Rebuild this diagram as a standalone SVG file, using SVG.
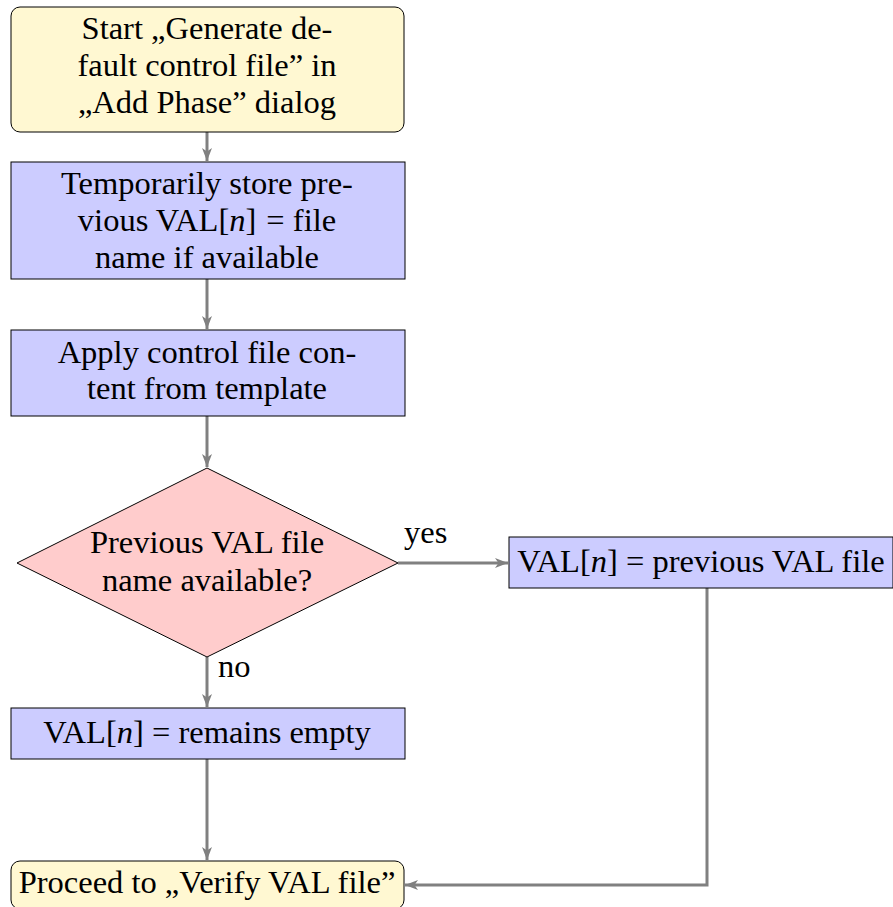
<svg xmlns="http://www.w3.org/2000/svg" width="893" height="907" viewBox="0 0 893 907">
  <style>
    .lbl { font-family: "Liberation Serif", "DejaVu Serif", serif; font-size: 32.5px; fill: #000; text-anchor: middle; }
    .edge-lbl { font-family: "Liberation Serif", "DejaVu Serif", serif; font-size: 32.5px; fill: #000; }
    .start { fill: #fff8d2; stroke: #000; stroke-width: 1; }
    .proc { fill: #ccccff; stroke: #000; stroke-width: 1; }
    .dec { fill: #ffcccc; stroke: #000; stroke-width: 1; }
    .conn { fill: none; stroke: #808080; stroke-width: 3; marker-end: url(#arr); }
    .it { font-style: italic; }
  </style>
  <defs>
    <marker id="arr" markerWidth="14" markerHeight="12" refX="13" refY="5" orient="auto" markerUnits="userSpaceOnUse">
      <path d="M0,0 L13,5 L0,10 L3.5,5 Z" fill="#808080"/>
    </marker>
  </defs>

  <g id="connectors">
    <path class="conn" d="M207,132 V161"/>
    <path class="conn" d="M207,279 V329"/>
    <path class="conn" d="M207,416 V467"/>
    <path class="conn" d="M207,657 V707"/>
    <path class="conn" d="M398,563 H508"/>
    <path class="conn" d="M207,759 V860"/>
    <path class="conn" d="M707,588 V885 H405"/>
    <text class="edge-lbl" x="404" y="543">yes</text>
    <text class="edge-lbl" x="218" y="677">no</text>
  </g>

  <g id="start">
    <rect class="start" x="11" y="7" width="393" height="125" rx="9"/>
    <text class="lbl" x="207" y="39">Start „Generate de-</text>
    <text class="lbl" x="207" y="76">fault control file” in</text>
    <text class="lbl" x="207" y="113">„Add Phase” dialog</text>
  </g>

  <g id="store">
    <rect class="proc" x="11" y="162" width="394" height="117"/>
    <text class="lbl" x="207" y="194">Temporarily store pre-</text>
    <text class="lbl" x="207" y="231">vious VAL[<tspan class="it">n</tspan>]<tspan dx="10">=</tspan> file</text>
    <text class="lbl" x="207" y="268">name if available</text>
  </g>

  <g id="apply">
    <rect class="proc" x="11" y="330" width="394" height="86"/>
    <text class="lbl" x="207" y="363">Apply control file con-</text>
    <text class="lbl" x="207" y="399">tent from template</text>
  </g>

  <g id="decision">
    <polygon class="dec" points="207,468 398,563 207,657 17,563"/>
    <text class="lbl" x="207" y="553">Previous VAL file</text>
    <text class="lbl" x="207" y="591">name available?</text>
  </g>

  <g id="previous">
    <rect class="proc" x="509" y="537" width="384" height="51"/>
    <text class="lbl" x="701" y="572">VAL[<tspan class="it">n</tspan>] = previous VAL file</text>
  </g>

  <g id="empty">
    <rect class="proc" x="11" y="708" width="394" height="51"/>
    <text class="lbl" x="207" y="743">VAL[<tspan class="it">n</tspan>] = remains empty</text>
  </g>

  <g id="proceed">
    <rect class="start" x="11" y="861" width="393" height="48" rx="9"/>
    <text class="lbl" x="207" y="893">Proceed to „Verify VAL file”</text>
  </g>
</svg>
